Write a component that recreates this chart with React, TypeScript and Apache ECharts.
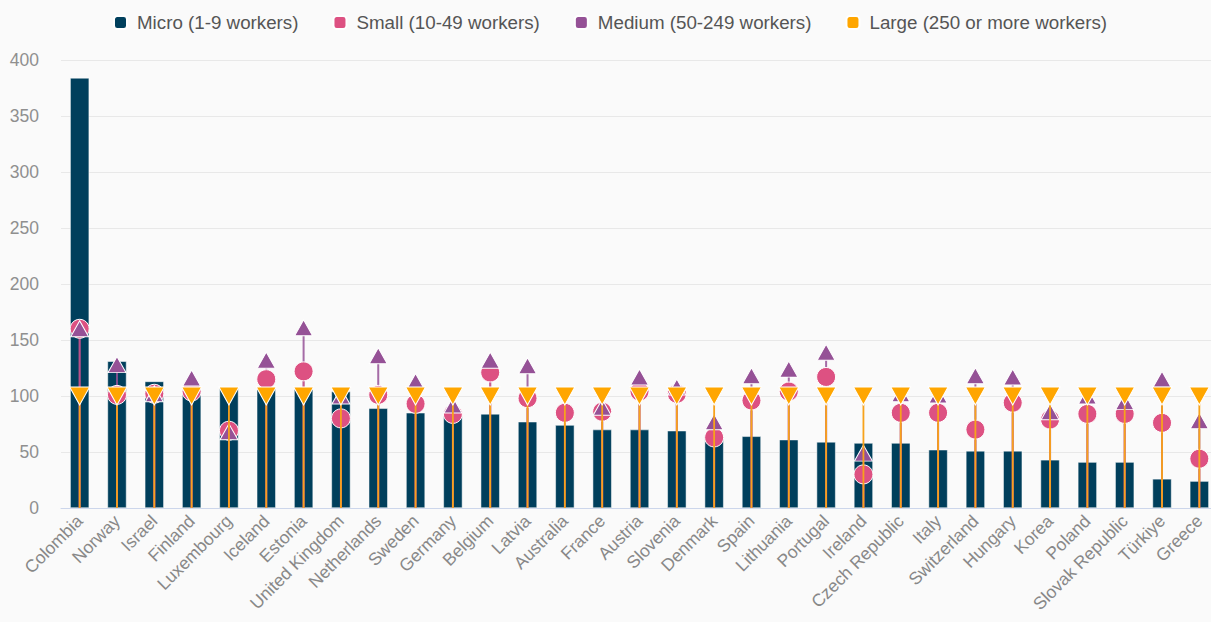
import React, { useEffect, useRef } from "react";
import * as echarts from "echarts";

const countries = [
  "Colombia", "Norway", "Israel", "Finland", "Luxembourg", "Iceland", "Estonia",
  "United Kingdom", "Netherlands", "Sweden", "Germany", "Belgium", "Latvia",
  "Australia", "France", "Austria", "Slovenia", "Denmark", "Spain", "Lithuania",
  "Portugal", "Ireland", "Czech Republic", "Italy", "Switzerland", "Hungary",
  "Korea", "Poland", "Slovak Republic", "Türkiye", "Greece",
];

const micro = [384, 131, 113, 107, 107, 107, 106, 104, 89, 85, 82, 84, 77, 74, 70, 70, 69, 65, 64, 61, 59, 58, 58, 52, 51, 51, 43, 41, 41, 26, 24];
const small = [160, 101, 102, 104, 69, 115, 122, 80, 101, 93, 84, 121, 98, 85, 86, 104, 102, 63, 96, 104, 117, 30, 85, 85, 70, 94, 79, 84, 84, 76, 44];
const medium: (number | null)[] = [160, 128, 102, 116, 68, 132, 161, 100, 136, 113, 92, 132, 127, null, 90, 117, 108, 77, 118, 124, 139, 49, 102, 101, 118, 117, 86, 100, 95, 115, 78];
const large = [100, 100, 100, 100, 100, 100, 100, 100, 100, 100, 100, 100, 100, 100, 100, 100, 100, 100, 100, 100, 100, 100, 100, 100, 100, 100, 100, 100, 100, 100, 100];

const yTicks = { min: 0, max: 400, interval: 50 };

const C_MICRO = "#003f5c";
const C_SMALL = "#dd5182";
const C_MEDIUM = "#955196";
const C_LARGE = "#ffa600";

function stemSeries(values: (number | null)[], color: string, opacity: number, z: number, width: number) {
  return {
    type: "custom",
    silent: true,
    z,
    data: values.map((v, i) => [i, v]),
    renderItem: (params: any, api: any) => {
      const v = api.value(1);
      if (v === null || v === undefined || isNaN(v)) return null;
      const p0 = api.coord([api.value(0), 0]);
      const p1 = api.coord([api.value(0), v]);
      return {
        type: "line",
        shape: { x1: p0[0], y1: p0[1], x2: p1[0], y2: p1[1] },
        style: { stroke: color, lineWidth: width, opacity },
      };
    },
  };
}

export default function App() {
  const ref = useRef<HTMLDivElement>(null);
  useEffect(() => {
    if (!ref.current) return;
    const chart = echarts.init(ref.current, null, { renderer: "svg" });
    const font = "'Liberation Sans', Arial, sans-serif";
    chart.setOption({
      animation: false,
      backgroundColor: "#fafafa",
      textStyle: { fontFamily: font },
      legend: {
        top: 8,
        left: 108,
        icon: "roundRect",
        itemWidth: 13,
        itemHeight: 13,
        itemGap: 34,
        textStyle: { fontSize: 18.75, color: "#555", fontFamily: font, padding: [0, 0, 0, 5] },
        data: [
          "Micro (1-9 workers)",
          "Small (10-49 workers)",
          "Medium (50-249 workers)",
          "Large (250 or more workers)",
        ],
      },
      grid: { left: 61, right: 0, top: 60, bottom: 114 },
      xAxis: {
        type: "category",
        data: countries,
        axisLine: { lineStyle: { color: "#ccd6eb", width: 1 } },
        axisTick: { show: false },
        axisLabel: { rotate: 45, fontSize: 17.5, color: "#888", interval: 0, margin: 10, fontFamily: font },
      },
      yAxis: {
        type: "value",
        min: yTicks.min,
        max: yTicks.max,
        interval: yTicks.interval,
        axisLabel: { fontSize: 17.5, color: "#8f8f8f", margin: 22, fontFamily: font },
        splitLine: { lineStyle: { color: "#e8e8e8" } },
        axisLine: { show: false },
      },
      series: [
        {
          name: "Micro (1-9 workers)",
          type: "bar",
          z: 1,
          data: micro,
          barWidth: 19,
          itemStyle: { color: C_MICRO, borderColor: "#ffffff", borderWidth: 0.5 },
        },
        stemSeries(medium, C_MEDIUM, 0.85, 3, 2),
        stemSeries(small, C_SMALL, 0.6, 4, 2),
        {
          name: "Small (10-49 workers)",
          type: "scatter",
          z: 5,
          data: small,
          symbol: "circle",
          symbolSize: 19,
          itemStyle: { color: C_SMALL, borderColor: "#fff", borderWidth: 1, opacity: 1 },
        },
        {
          name: "Medium (50-249 workers)",
          type: "scatter",
          z: 6,
          data: medium,
          symbol: "triangle",
          symbolSize: [18, 16],
          itemStyle: { color: C_MEDIUM, borderColor: "#fff", borderWidth: 1, opacity: 1 },
        },
        stemSeries(large, "#f7a21b", 1, 7, 1.8),
        {
          name: "Large (250 or more workers)",
          type: "scatter",
          z: 8,
          data: large,
          symbol: "triangle",
          symbolRotate: 180,
          symbolSize: [20, 18],
          itemStyle: { color: C_LARGE, borderColor: "#fff", borderWidth: 1, opacity: 1 },
        },
      ],
    });
    return () => chart.dispose();
  }, []);
  return (
    <div style={{ position: "absolute", left: 0, top: 0, width: 1211, height: 622, overflow: "hidden" }}>
      <div ref={ref} style={{ width: 1218, height: 622 }} />
    </div>
  );
}
